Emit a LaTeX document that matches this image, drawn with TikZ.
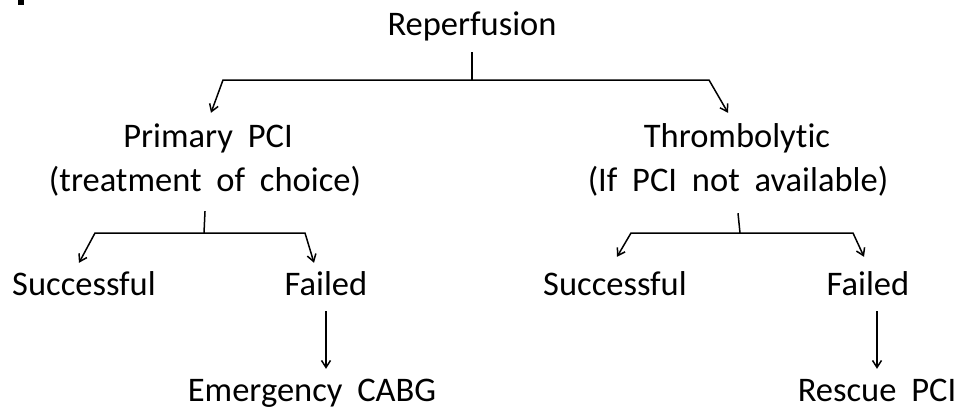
\documentclass[tikz,border=0pt]{standalone}
\usepackage{fontspec}
\setmainfont{Carlito}[Ligatures={NoCommon,NoRare,NoContextual},WordSpace=1.9]
\usetikzlibrary{arrows.meta}
\begin{document}
\begin{tikzpicture}[x=1pt,y=-1pt,
  label/.style={font=\fontsize{34.5pt}{40pt}\selectfont, inner xsep=0pt, inner ysep=9pt,
    text height=23pt, text depth=7pt, anchor=base},
  link/.style={line width=1.5pt, line join=miter},
  arr/.style={link, -{Straight Barb[length=7pt,width=9pt,line width=1.5pt]}}]
\useasboundingbox (0,0) rectangle (957,410);
% small mark at the top-left edge
\fill (18,0) rectangle (24,5);

% text nodes
\node[label] (rep)    at (472,35)  {Reperfusion};
\node[label] (pci)    at (208,147) {Primary PCI};
\node[label] (pcisub) at (205,191) {(treatment of choice)};
\node[label] (thr)    at (737,147) {Thrombolytic};
\node[label] (thrsub) at (738,191) {(If PCI not available)};
\node[label] (succ1)  at (84,295)  {Successful};
\node[label] (fail1)  at (326,295) {Failed};
\node[label] (succ2)  at (615,295) {Successful};
\node[label] (fail2)  at (868,295) {Failed};
\node[label] (cabg)   at (312,401) {Emergency CABG};
\node[label] (rescue) at (877,401) {Rescue PCI};

% branching hubs
\coordinate (hub1) at (472,80);
\coordinate (hub2) at (204,233);
\coordinate (hub3) at (740,233);

% first split
\draw[link] ([yshift=-1pt]rep.south) -- (hub1);
\draw[arr] (hub1) -- ++(-249,0) -- ([xshift=3pt,yshift=2pt]pci.north);
\draw[arr] (hub1) -- ++(237,0) -- ([xshift=-9pt,yshift=2pt]thr.north);

% primary PCI outcomes
\draw[link] ([yshift=-4pt]pcisub.south) -- (hub2);
\draw[arr] (hub2) -- ++(-109,0) -- ([xshift=-5pt]succ1.north);
\draw[arr] (hub2) -- ++(101,0) -- ([xshift=-12pt]fail1.north);

% thrombolytic outcomes
\draw[link] ([yshift=-6pt]thrsub.south) -- (hub3);
\draw[arr] (hub3) -- ++(-109,0) -- ([xshift=2pt,yshift=6pt]succ2.north);
\draw[arr] (hub3) -- ++(113,0) -- ([xshift=-4pt,yshift=6pt]fail2.north);

% follow-up after failure
\draw[arr] (fail1.south) -- (fail1.south |- cabg.north);
\draw[arr] (rescue.north |- fail2.south) -- (rescue.north);
\end{tikzpicture}
\end{document}
